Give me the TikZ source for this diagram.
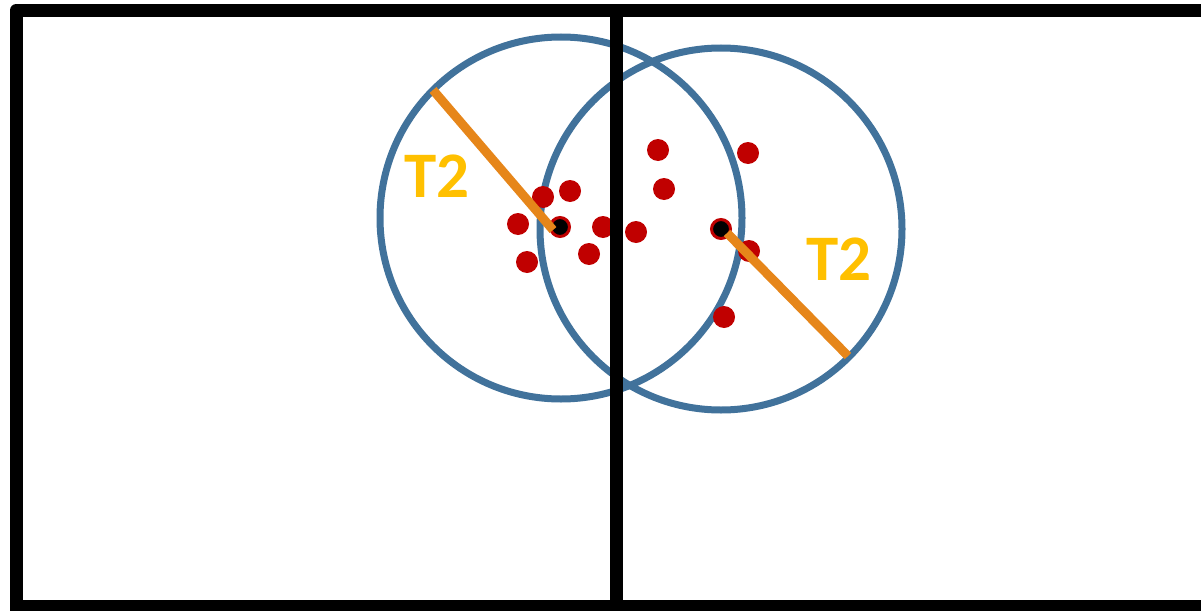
\documentclass[tikz,border=0pt]{standalone}
\usepackage{fontspec}
\setmainfont{Carlito}
\definecolor{ringblue}{RGB}{65,114,155}
\definecolor{segorange}{RGB}{230,134,26}
\definecolor{dotred}{RGB}{192,0,0}
\definecolor{labelgold}{RGB}{255,192,0}
\tikzset{
  ring/.style={circle,draw=ringblue,line width=7pt,minimum size=362pt,inner sep=0pt},
  reddot/.style={circle,fill=dotred,minimum size=22pt,inner sep=0pt},
  centerdot/.style={circle,fill=black,draw=dotred,line width=3pt,minimum size=19pt,inner sep=0pt},
  radius line/.style={draw=segorange,line width=9pt},
  frame/.style={draw=black,line width=13pt,line join=round},
  lbl/.style={text=labelgold,font=\bfseries\fontsize{65}{65}\selectfont,inner sep=0pt}
}
\begin{document}
\begin{tikzpicture}[x=1pt,y=-1pt]
\useasboundingbox (0,0) rectangle (1201,610);
% circles
\node[ring] (c1) at (561,218) {};
\node[ring] (c2) at (721,229) {};
% red points
\node[reddot] (p1) at (543,197) {};
\node[reddot] (p2) at (570,191) {};
\node[reddot] (p3) at (518,224) {};
\node[reddot] (p4) at (527,262) {};
\node[reddot] (p5) at (603,227) {};
\node[reddot] (p6) at (589,254) {};
\node[reddot] (p7) at (636,232) {};
\node[reddot] (p8) at (658,150) {};
\node[reddot] (p9) at (664,189) {};
\node[reddot] (p10) at (748,153) {};
\node[reddot] (p11) at (749,251) {};
\node[reddot] (p12) at (724,317) {};
% centers
\node[centerdot] (m1) at (560,227) {};
\node[centerdot] (m2) at (721,229) {};
% radius lines
\coordinate (e1) at (433,90);
\coordinate (e2) at (848,356);
\draw[radius line] (e1) -- (553,230);
\draw[radius line] (727,233) -- (e2);
% labels
\node[lbl] (t1) at (437,176) {T2};
\node[lbl] (t2) at (839,259) {T2};
% frame
\coordinate (fbl) at (16,620);
\coordinate (ftl) at (16,10.5);
\coordinate (ftr) at (1215,10.5);
\coordinate (fbr) at (1215,606);
\coordinate (fbl2) at (16,606);
\coordinate (dtop) at (616,10.5);
\coordinate (dbot) at (616,620);
\draw[frame] (fbl) -- (ftl) -- (ftr);
\draw[frame] (fbl2) -- (fbr);
\draw[frame] (dtop) -- (dbot);
\end{tikzpicture}
\end{document}
